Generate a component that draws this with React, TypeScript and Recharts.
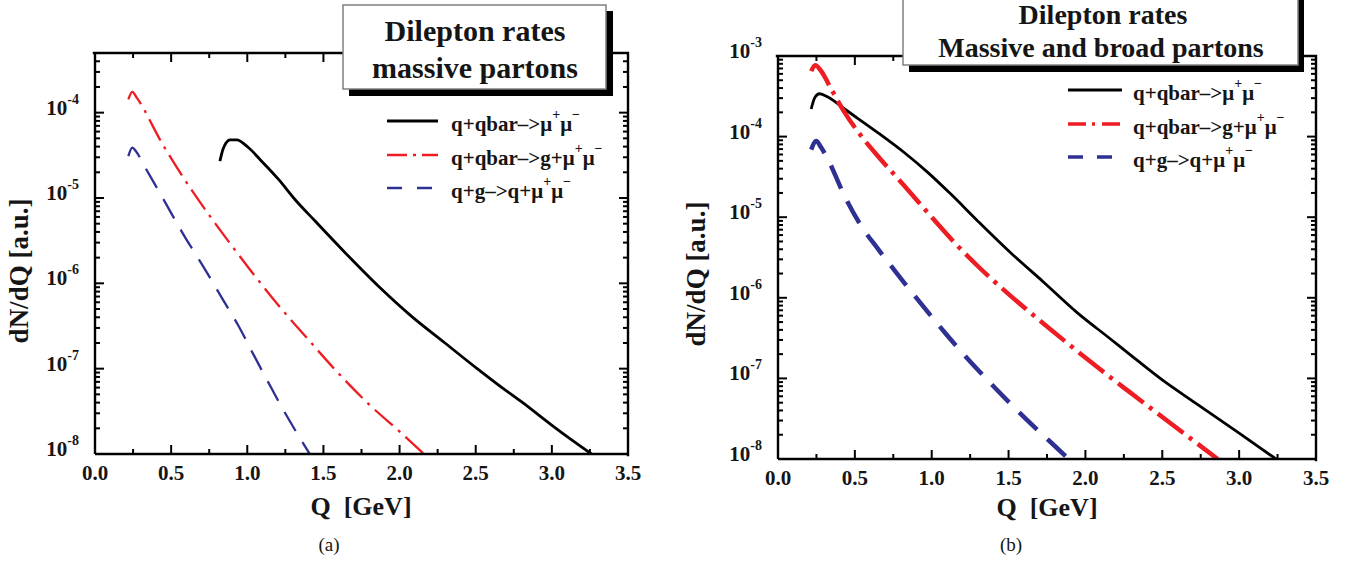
import React from 'react';
import { LineChart, Line, XAxis, YAxis } from 'recharts';

type Pt = { q: number; v: number };
const mk = (rows: number[][]): Pt[] => rows.map(([q, v]) => ({ q, v }));

// ---------- Data: panel (a) massive partons ----------
const aQqbarMuMu = [
  [0.82, 2.7e-5], [0.84, 3.7e-5], [0.86, 4.4e-5], [0.886, 4.8e-5], [0.93, 4.8e-5],
  [1.007, 3.9e-5], [1.094, 2.7e-5], [1.204, 1.66e-5], [1.313, 9.6e-6], [1.444, 5.4e-6],
  [1.641, 2.3e-6], [1.86, 9.3e-7], [2.079, 4.1e-7], [2.298, 2.0e-7], [2.516, 9.8e-8],
  [2.646, 6.5e-8], [2.8, 4.1e-8], [3.003, 2.15e-8], [3.13, 1.46e-8], [3.26, 1.0e-8],
];
const aQqbarGMuMu = [
  [0.219, 1.43e-4], [0.245, 1.75e-4], [0.274, 1.5e-4], [0.438, 4.45e-5], [0.591, 1.62e-5],
  [0.766, 5.75e-6], [0.886, 2.95e-6], [1.05, 1.22e-6], [1.225, 5.0e-7], [1.4, 2.2e-7],
  [1.575, 9.8e-8], [1.794, 3.9e-8], [2.013, 1.75e-8], [2.16, 1.0e-8],
];
const aQgQMuMu = [
  [0.219, 3.1e-5], [0.245, 3.9e-5], [0.27, 3.5e-5], [0.328, 2.3e-5], [0.438, 1.05e-5],
  [0.58, 3.75e-6], [0.722, 1.46e-6], [0.832, 6.8e-7], [0.941, 3.2e-7], [1.04, 1.47e-7],
  [1.138, 6.9e-8], [1.236, 3.3e-8], [1.324, 1.78e-8], [1.41, 1.0e-8],
];

// ---------- Data: panel (b) massive and broad partons ----------
const bQqbarMuMu = [
  [0.216, 2.2e-4], [0.238, 3.0e-4], [0.27, 3.4e-4], [0.325, 3.1e-4], [0.433, 2.2e-4],
  [0.649, 1.12e-4], [0.823, 6.3e-5], [0.974, 3.6e-5], [1.126, 1.92e-5], [1.299, 9.0e-6],
  [1.515, 3.6e-6], [1.732, 1.54e-6], [1.948, 6.5e-7], [2.165, 3.06e-7], [2.286, 2.0e-7],
  [2.502, 9.5e-8], [2.719, 4.9e-8], [3.0, 2.09e-8], [3.24, 1.0e-8],
];
const bQqbarGMuMu = [
  [0.216, 6.5e-4], [0.242, 7.7e-4], [0.281, 6.5e-4], [0.346, 3.9e-4], [0.433, 2.0e-4],
  [0.541, 1.02e-4], [0.649, 5.75e-5], [0.823, 2.44e-5], [0.974, 1.14e-5], [1.169, 4.4e-6],
  [1.299, 2.48e-6], [1.515, 1.05e-6], [1.732, 4.7e-7], [1.948, 2.17e-7], [2.165, 1.02e-7],
  [2.286, 6.8e-8], [2.502, 3.3e-8], [2.66, 1.95e-8], [2.86, 1.0e-8],
];
const bQgQMuMu = [
  [0.216, 6.9e-5], [0.249, 8.8e-5], [0.281, 7.3e-5], [0.325, 5.2e-5], [0.433, 1.83e-5],
  [0.541, 7.8e-6], [0.649, 4.07e-6], [0.758, 2.19e-6], [0.866, 1.2e-6], [0.974, 6.7e-7],
  [1.082, 3.76e-7], [1.212, 1.95e-7], [1.342, 1.05e-7], [1.515, 4.8e-8], [1.688, 2.3e-8],
  [1.818, 1.35e-8], [1.89, 1.0e-8],
];

// ---------- Ticks / labels ----------
const xTicks = [0, 0.25, 0.5, 0.75, 1, 1.25, 1.5, 1.75, 2, 2.25, 2.5, 2.75, 3, 3.25, 3.5];
const decadesA = [-8, -7, -6, -5];
const decadesB = [-8, -7, -6, -5, -4];
const mults = [1, 2, 3, 4, 5, 6, 7, 8, 9];
const yTicksA = [...decadesA.flatMap((e) => mults.map((m) => m * Math.pow(10, e))), 1e-4, 2e-4, 3e-4, 4e-4];
const yTicksB = [...decadesB.flatMap((e) => mults.map((m) => m * Math.pow(10, e))), 1e-3];
const legendLabels = [
  { main: 'q+qbar–>μ', sups: ['+', '−'] },
  { main: 'q+qbar–>g+μ', sups: ['+', '−'] },
  { main: 'q+g–>q+μ', sups: ['+', '−'] },
];

const FONT = "'Liberation Serif','Times New Roman',Times,serif";
const TXT = '#151515';
const RED = '#EE1D23';
const BLUE = '#2E3192';
const FRAME_W = 2.4;

const isMajorX = (v: number) => Math.abs(v * 2 - Math.round(v * 2)) < 1e-6;
const isDecade = (v: number) => Math.abs(Math.log10(v) - Math.round(Math.log10(v))) < 1e-6;

type Box = { left: number; right: number; top: number; bottom: number };

// panel geometry (page pixels)
const boxA: Box = { left: 95, right: 628, top: 53, bottom: 454 };
const boxB: Box = { left: 778, right: 1316, top: 56, bottom: 459 };

function makeXTick(box: Box) {
  return (props: any) => {
    const { x, y, payload } = props;
    const v = payload.value as number;
    const major = isMajorX(v);
    const len = major ? 9 : 5;
    return (
      <g>
        <line x1={x} x2={x} y1={y} y2={y - len} stroke="#000" strokeWidth={2} />
        <line x1={x} x2={x} y1={box.top} y2={box.top + len} stroke="#000" strokeWidth={2} />
        {major && (
          <text x={x} y={y + 26} textAnchor="middle" fontFamily={FONT} fontWeight="bold" fontSize={21} fill={TXT}>
            {v.toFixed(1)}
          </text>
        )}
      </g>
    );
  };
}

function makeYTick(box: Box) {
  return (props: any) => {
    const { x, y, payload } = props;
    const v = payload.value as number;
    const major = isDecade(v);
    const len = major ? 9 : 5;
    const exp = Math.round(Math.log10(v));
    return (
      <g>
        <line x1={x} x2={x + len} y1={y} y2={y} stroke="#000" strokeWidth={2} />
        <line x1={box.right} x2={box.right - len} y1={y} y2={y} stroke="#000" strokeWidth={2} />
        {major && (
          <text x={x - 16} y={y + 2} textAnchor="end" fontFamily={FONT} fontWeight="bold" fontSize={21} fill={TXT}>
            10
            <tspan dy={-11} fontSize={14}>{String(exp)}</tspan>
          </text>
        )}
      </g>
    );
  };
}

type SeriesStyle = { data: Pt[]; color: string; width: number; dash?: string; name: string };

function Panel(props: {
  width: number;
  margin: { top: number; right: number; bottom: number; left: number };
  yTop: number;
  yTicks: number[];
  series: SeriesStyle[];
}) {
  const { width, margin, yTop, yTicks, series } = props;
  const height = 566;
  const xAxisH = 40;
  const yAxisW = 60;
  const box: Box = {
    left: margin.left + yAxisW,
    right: width - margin.right,
    top: margin.top,
    bottom: height - margin.bottom - xAxisH,
  };
  const axisLine = { stroke: '#000', strokeWidth: FRAME_W };
  return (
    <LineChart width={width} height={height} margin={margin}>
      <XAxis
        dataKey="q"
        type="number"
        domain={[0, 3.5]}
        ticks={xTicks}
        interval={0}
        height={xAxisH}
        axisLine={axisLine}
        tickLine={false}
        tickSize={0}
        tickMargin={0}
        tick={makeXTick(box)}
        allowDataOverflow
      />
      <YAxis
        type="number"
        scale="log"
        domain={[1e-8, yTop]}
        ticks={yTicks}
        interval={0}
        width={yAxisW}
        axisLine={axisLine}
        tickLine={false}
        tickSize={0}
        tickMargin={0}
        tick={makeYTick(box)}
        allowDataOverflow
      />
      {series.map((s) => (
        <Line
          key={s.name}
          name={s.name}
          data={s.data}
          dataKey="v"
          type="monotone"
          stroke={s.color}
          strokeWidth={s.width}
          strokeDasharray={s.dash}
          strokeLinejoin="round"
          dot={false}
          activeDot={false}
          isAnimationActive={false}
        />
      ))}
    </LineChart>
  );
}

function LegendBlock(props: {
  lineX: number;
  lineLen: number;
  textX: number;
  rowYs: number[];
  styles: { color: string; width: number; dash?: string }[];
}) {
  const { lineX, lineLen, textX, rowYs, styles } = props;
  return (
    <g>
      {legendLabels.map((lab, i) => (
        <g key={i}>
          <line
            x1={lineX}
            x2={lineX + lineLen}
            y1={rowYs[i]}
            y2={rowYs[i]}
            stroke={styles[i].color}
            strokeWidth={styles[i].width}
            strokeDasharray={styles[i].dash}
          />
          <text x={textX} y={rowYs[i] + 10} fontFamily={FONT} fontWeight="bold" fontSize={21} fill={TXT}>
            {lab.main}
            <tspan dy={-12} fontSize={14}>{lab.sups[0]}</tspan>
            <tspan dy={12} fontSize={21}>μ</tspan>
            <tspan dy={-12} fontSize={14}>{lab.sups[1]}</tspan>
          </text>
        </g>
      ))}
    </g>
  );
}

function FrameTopRight({ box }: { box: Box }) {
  return (
    <path
      d={`M${box.left - 1},${box.top} L${box.right},${box.top} L${box.right},${box.bottom + 1}`}
      fill="none"
      stroke="#000"
      strokeWidth={FRAME_W}
      strokeLinecap="square"
    />
  );
}

export default function App() {
  const seriesA: SeriesStyle[] = [
    { name: 'q+qbar->mu+mu-', data: mk(aQqbarMuMu), color: '#000', width: 2.8 },
    { name: 'q+qbar->g+mu+mu-', data: mk(aQqbarGMuMu), color: RED, width: 2.3, dash: '24 7 3 7' },
    { name: 'q+g->q+mu+mu-', data: mk(aQgQMuMu), color: BLUE, width: 2.3, dash: '22 13' },
  ];
  const seriesB: SeriesStyle[] = [
    { name: 'q+qbar->mu+mu-', data: mk(bQqbarMuMu), color: '#000', width: 2.8 },
    { name: 'q+qbar->g+mu+mu-', data: mk(bQqbarGMuMu), color: RED, width: 4.5, dash: '32 7 4 7' },
    { name: 'q+g->q+mu+mu-', data: mk(bQgQMuMu), color: BLUE, width: 4.5, dash: '25 14' },
  ];
  return (
    <div style={{ position: 'absolute', left: 0, top: 0, width: 1361, height: 566, background: '#fff', overflow: 'hidden' }}>
      <div style={{ position: 'absolute', left: 0, top: 0 }}>
        <Panel
          width={680}
          margin={{ top: boxA.top, right: 680 - boxA.right, bottom: 566 - boxA.bottom - 40, left: boxA.left - 60 }}
          yTop={5e-4}
          yTicks={yTicksA}
          series={seriesA}
        />
      </div>
      <div style={{ position: 'absolute', left: 680, top: 0 }}>
        <Panel
          width={681}
          margin={{ top: boxB.top, right: 1361 - boxB.right, bottom: 566 - boxB.bottom - 40, left: boxB.left - 680 - 60 }}
          yTop={1e-3}
          yTicks={yTicksB}
          series={seriesB}
        />
      </div>
      <svg
        width={1361}
        height={566}
        style={{ position: 'absolute', left: 0, top: 0, pointerEvents: 'none' }}
      >
        <FrameTopRight box={boxA} />
        <FrameTopRight box={boxB} />

        {/* Panel (a) title box */}
        <rect x={349} y={11} width={264} height={85} fill="#000" />
        <rect x={343} y={5} width={263} height={84} fill="#fff" stroke="#808080" strokeWidth={1.5} />
        <text x={475} y={41} textAnchor="middle" fontFamily={FONT} fontWeight="bold" fontSize={30} fill={TXT}>
          Dilepton rates
        </text>
        <text x={475} y={78} textAnchor="middle" fontFamily={FONT} fontWeight="bold" fontSize={30} fill={TXT}>
          massive partons
        </text>

        {/* Panel (b) title box */}
        <rect x={909} y={-14} width={395} height={86} fill="#000" />
        <rect x={903} y={-20} width={395} height={85} fill="#fff" stroke="#808080" strokeWidth={1.5} />
        <text x={1103} y={24} textAnchor="middle" fontFamily={FONT} fontWeight="bold" fontSize={28} fill={TXT}>
          Dilepton rates
        </text>
        <text x={1101} y={57} textAnchor="middle" fontFamily={FONT} fontWeight="bold" fontSize={28} fill={TXT}>
          Massive and broad partons
        </text>

        {/* Legends */}
        <LegendBlock
          lineX={387}
          lineLen={51}
          textX={451}
          rowYs={[121, 155, 188]}
          styles={[
            { color: '#000', width: 3 },
            { color: RED, width: 2.6, dash: '20 6 3 6' },
            { color: BLUE, width: 2.6, dash: '15 15' },
          ]}
        />
        <LegendBlock
          lineX={1068}
          lineLen={54}
          textX={1133}
          rowYs={[90, 124, 157]}
          styles={[
            { color: '#000', width: 3 },
            { color: RED, width: 3.5, dash: '18 6 3 7' },
            { color: BLUE, width: 3.5, dash: '15 14' },
          ]}
        />

        {/* Axis titles */}
        <text x={361} y={515} textAnchor="middle" fontFamily={FONT} fontWeight="bold" fontSize={26} fill={TXT}>
          {'Q\u00A0\u00A0[GeV]'}
        </text>
        <text x={1047} y={516} textAnchor="middle" fontFamily={FONT} fontWeight="bold" fontSize={26} fill={TXT}>
          {'Q\u00A0\u00A0[GeV]'}
        </text>
        <text
          x={28}
          y={271}
          textAnchor="middle"
          transform="rotate(-90 28 271)"
          fontFamily={FONT}
          fontWeight="bold"
          fontSize={27}
          fill={TXT}
        >
          dN/dQ [a.u.]
        </text>
        <text
          x={705}
          y={274}
          textAnchor="middle"
          transform="rotate(-90 705 274)"
          fontFamily={FONT}
          fontWeight="bold"
          fontSize={27}
          fill={TXT}
        >
          dN/dQ [a.u.]
        </text>

        {/* Sub-captions */}
        <text x={329} y={551} textAnchor="middle" fontFamily={FONT} fontSize={19} fill={TXT}>
          (a)
        </text>
        <text x={1011} y={551} textAnchor="middle" fontFamily={FONT} fontSize={19} fill={TXT}>
          (b)
        </text>
      </svg>
    </div>
  );
}
